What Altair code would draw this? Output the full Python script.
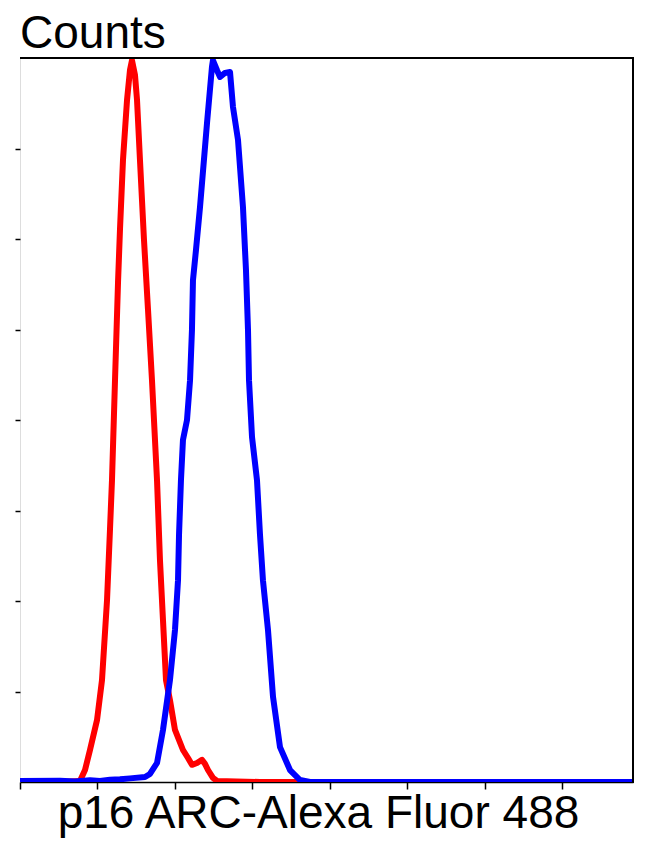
import altair as alt
import pandas as pd

# Fluorescence intensity (arbitrary units) and counts for the isotype control (red)
red_x = [0.0, 0.516, 0.774, 0.839, 0.903, 0.994, 1.058, 1.123, 1.161, 1.187, 1.226, 1.265,
         1.290, 1.329, 1.381, 1.419, 1.445, 1.484, 1.510, 1.548, 1.600, 1.652, 1.703, 1.768,
         1.806, 1.845, 1.884, 1.935, 2.0, 2.103, 2.168, 2.219, 2.284, 2.348, 2.387, 2.426,
         2.490, 2.542, 3.097, 7.91]
red_y = [0.0, 0.0, 0.22, 2.65, 7.07, 13.7, 22.5, 40.2, 55.7, 66.7, 88.8, 110.5,
         122.0, 137.5, 150.7, 157.3, 159.5, 156.2, 150.7, 137.5, 119.8, 104.3, 88.8, 66.7,
         49.1, 35.8, 22.5, 18.1, 11.5, 7.07, 5.3, 3.8, 4.2, 4.9, 4.0, 2.65,
         0.9, 0.22, 0.0, 0.0]

# p16 ARC stained sample (blue)
blue_x = [0.0, 0.516, 0.710, 0.903, 1.032, 1.161, 1.290, 1.419, 1.613, 1.677, 1.768, 1.845,
          1.935, 2.0, 2.039, 2.052, 2.077, 2.103, 2.155, 2.194, 2.219, 2.232, 2.271, 2.323,
          2.413, 2.477, 2.490, 2.542, 2.581, 2.645, 2.710, 2.748, 2.813, 2.877, 2.916, 2.942,
          2.955, 2.994, 3.058, 3.097, 3.135, 3.2, 3.265, 3.355, 3.484, 3.613, 3.742, 7.91]
blue_y = [0.2, 0.3, 0.1, 0.4, 0.2, 0.5, 0.6, 0.8, 1.1, 1.77, 4.2, 11.5,
          22.5, 33.6, 44.6, 54.6, 66.7, 75.6, 80.0, 88.8, 99.9, 110.9, 117.6, 127.1,
          145.6, 158.0, 159.5, 157.3, 155.8, 156.7, 156.9, 149.2, 141.9, 127.1, 113.1, 99.9,
          88.8, 76.2, 66.7, 54.6, 44.6, 33.6, 18.8, 7.7, 2.65, 0.44, 0.0, 0.0]

x_ticks = [0, 1, 2, 3, 4, 5, 6, 7]
y_ticks = [20, 40, 60, 80, 100, 120, 140]
y_title = ["Counts"]
x_title = "p16 ARC-Alexa Fluor 488"

rows = []
for i, (x, y) in enumerate(zip(red_x, red_y)):
    rows.append({"x": x, "y": y, "series": "Control", "order": i})
for i, (x, y) in enumerate(zip(blue_x, blue_y)):
    rows.append({"x": x, "y": y, "series": "p16 ARC", "order": i})
df = pd.DataFrame(rows)

W, H = 613, 724
FONT = "Liberation Sans"

xscale = alt.Scale(domain=[0, 7.91], nice=False, zero=False)
yscale = alt.Scale(domain=[0, 160], nice=False)

base = alt.Chart(df)

red = base.transform_filter(alt.datum.series == "Control").mark_line(
    color="#ff0000", strokeWidth=6, clip=True, strokeJoin="round"
).encode(
    x=alt.X("x:Q", scale=xscale,
            axis=alt.Axis(values=x_ticks, labels=False, grid=False, domain=True,
                          domainColor="black", domainWidth=1.5, tickColor="black",
                          tickSize=7, tickWidth=1.5,
                          title=x_title, titleFont=FONT,
                          titleFontSize=46, titleFontWeight="normal", titleColor="black",
                          titleBaseline="alphabetic", titleAlign="center",
                          titleX=298, titleY=45)),
    y=alt.Y("y:Q", scale=yscale,
            axis=alt.Axis(values=y_ticks, labels=False, grid=False, domain=False,
                          tickColor="black", tickSize=5, tickWidth=1.5, title=None)),
    order="order:Q",
)

blue = base.transform_filter(alt.datum.series == "p16 ARC").mark_line(
    color="#0000ff", strokeWidth=6, clip=True, strokeJoin="round"
).encode(
    x=alt.X("x:Q", scale=xscale),
    y=alt.Y("y:Q", scale=yscale),
    order="order:Q",
)

top_rule = alt.Chart(df).mark_rule(color="black", strokeWidth=2).encode(
    x=alt.value(0), x2=alt.value(W + 1), y=alt.value(0)
)
right_rule = alt.Chart(df).mark_rule(color="black", strokeWidth=2).encode(
    x=alt.value(W), y=alt.value(0), y2=alt.value(H + 1)
)

title_txt = alt.Chart(pd.DataFrame({"t": y_title})).mark_text(
    align="left", baseline="alphabetic", font=FONT, fontSize=46, color="black"
).encode(text="t:N", x=alt.value(0), y=alt.value(-10))

chart = alt.layer(red, blue, top_rule, right_rule, title_txt).properties(
    width=W, height=H,
    autosize=alt.AutoSizeParams(type="none"),
    padding={"left": 12, "top": 50, "right": 9, "bottom": 57},
).configure_view(stroke=None).configure(background="white")

chart.save("out.html", embed_options={"renderer": "svg", "actions": False})
